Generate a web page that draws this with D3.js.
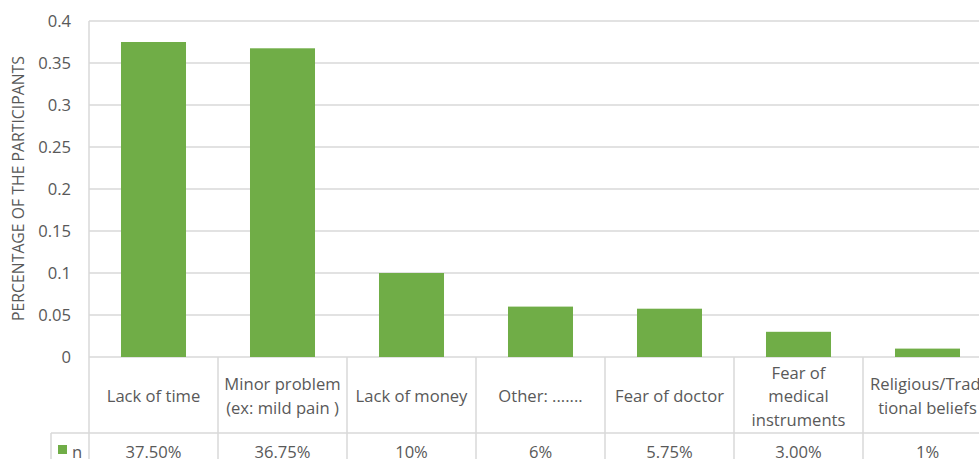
<!DOCTYPE html>
<html>
<head>
<meta charset="utf-8">
<script src="https://cdn.jsdelivr.net/npm/d3@7"></script>
<style>
  html, body { margin: 0; padding: 0; background: #fff; overflow: hidden; }
  svg { display: block; }
  text { font-family: "Open Sans", Lato, sans-serif; fill: #595959; }
</style>
</head>
<body>
<svg id="chart" width="979" height="459"></svg>
<script>
// Reasons for not visiting a doctor (share of participants)
const categories = [
  ["Lack of time"],
  ["Minor problem", "(ex: mild pain )"],
  ["Lack of money"],
  ["Other: ......."],
  ["Fear of doctor"],
  ["Fear of", "medical", "instruments"],
  ["Religious/Tradi", "tional beliefs"]
];
const values = [0.375, 0.3675, 0.10, 0.06, 0.0575, 0.03, 0.01];
const tableLabels = ["37.50%", "36.75%", "10%", "6%", "5.75%", "3.00%", "1%"];
const yTicks = [0, 0.05, 0.1, 0.15, 0.2, 0.25, 0.3, 0.35, 0.4];
const seriesName = "n";
const yTitle = "PERCENTAGE OF THE PARTICIPANTS";

const svg = d3.select("#chart");
const plotLeft = 89, plotTop = 21, zeroY = 357, band = 129;
const rowY = 433, tableLeft = 51;
const gridColor = "#d9d9d9", barColor = "#70ad47";
const fs = 16.6;

const x = d3.scaleBand()
  .domain(d3.range(categories.length))
  .range([plotLeft, plotLeft + band * categories.length])
  .paddingInner(0.496).paddingOuter(0.248);
const y = d3.scaleLinear().domain([0, 0.4]).range([zeroY, plotTop]);

// horizontal gridlines
svg.append("g").selectAll("line").data(yTicks).join("line")
  .attr("x1", plotLeft).attr("x2", 979)
  .attr("y1", d => y(d)).attr("y2", d => y(d))
  .attr("stroke", gridColor).attr("stroke-width", 1.5);

// y tick labels
const fmt = d => d === 0 ? "0" : String(+d.toFixed(2));
svg.append("g").selectAll("text").data(yTicks).join("text")
  .attr("x", 71).attr("y", d => y(d))
  .attr("dy", "0.35em").attr("text-anchor", "end")
  .attr("font-size", fs)
  .text(fmt);

// y title
svg.append("text")
  .attr("transform", `translate(18.5,188.5) rotate(-90)`)
  .attr("dy", "0.35em")
  .attr("text-anchor", "middle")
  .attr("font-size", 15.8)
  .text(yTitle);

// bars
svg.append("g").selectAll("rect").data(values).join("rect")
  .attr("x", (d, i) => x(i)).attr("width", x.bandwidth())
  .attr("y", d => y(d)).attr("height", d => zeroY - y(d))
  .attr("fill", barColor);

// data table grid
const g = svg.append("g").attr("stroke", gridColor).attr("stroke-width", 1.5);
const edges = d3.range(categories.length + 1).map(i => plotLeft + band * i);
g.selectAll("line.v").data(edges).join("line").attr("class", "v")
  .attr("x1", d => d).attr("x2", d => d)
  .attr("y1", (d, i) => i === 0 ? plotTop : zeroY).attr("y2", 459);
g.append("line").attr("x1", tableLeft).attr("x2", 979).attr("y1", rowY).attr("y2", rowY);
g.append("line").attr("x1", tableLeft).attr("x2", tableLeft).attr("y1", rowY).attr("y2", 459);

// category labels
const catG = svg.append("g");
categories.forEach((lines, i) => {
  const cx = plotLeft + band * (i + 0.5);
  const lh = 23.8, mid = 396.5;
  const t = catG.append("text").attr("text-anchor", "middle").attr("font-size", fs);
  lines.forEach((s, j) => {
    t.append("tspan").attr("x", cx)
      .attr("y", mid + (j - (lines.length - 1) / 2) * lh)
      .attr("dy", "0.35em").text(s);
  });
});

// value row
svg.append("g").selectAll("text").data(tableLabels).join("text")
  .attr("x", (d, i) => plotLeft + band * (i + 0.5)).attr("y", 452.5)
  .attr("dy", "0.35em").attr("text-anchor", "middle").attr("font-size", fs)
  .text(d => d);

// legend key in the table
svg.append("rect").attr("x", 58).attr("y", 445).attr("width", 9).attr("height", 9).attr("fill", barColor);
svg.append("text").attr("x", 72).attr("y", 452.5).attr("dy", "0.35em").attr("font-size", fs).text(seriesName);
</script>
</body>
</html>
